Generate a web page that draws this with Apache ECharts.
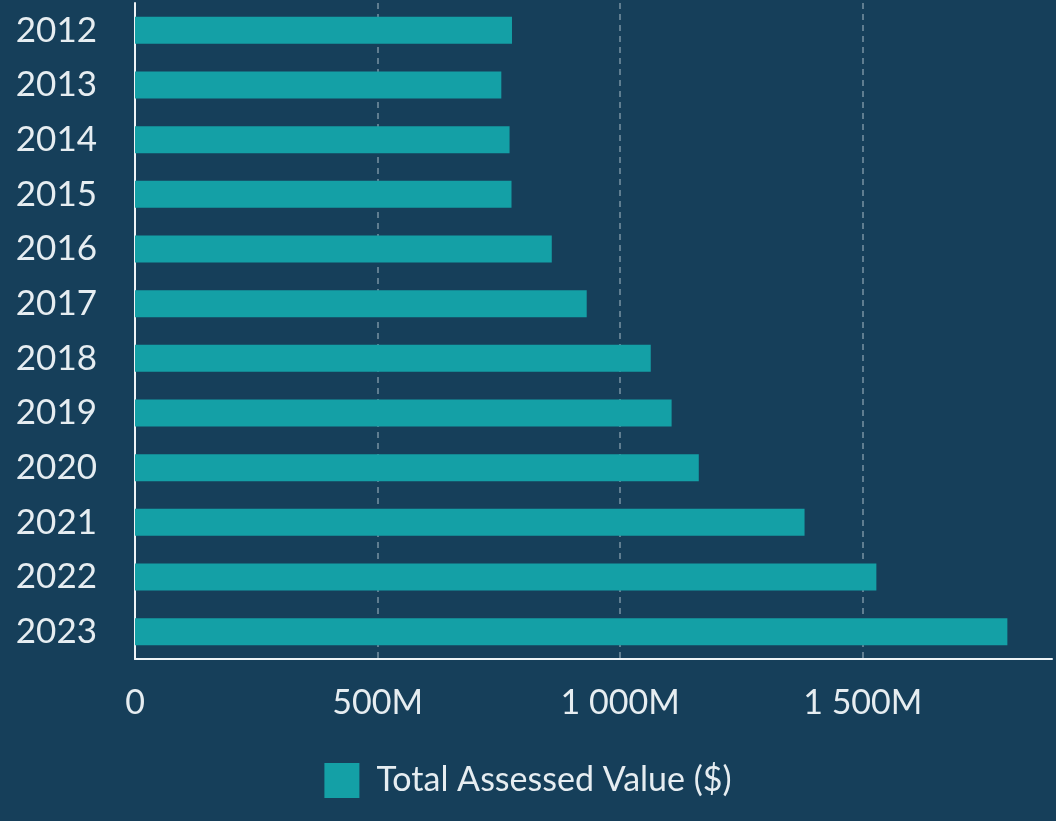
<!DOCTYPE html>
<html>
<head>
<meta charset="utf-8">
<script src="https://cdn.jsdelivr.net/npm/echarts@6/dist/echarts.min.js"></script>
<style>
  html, body { margin: 0; padding: 0; background: #163f5a; }
  #chart { width: 1056px; height: 821px; }
</style>
</head>
<body>
<div id="chart"></div>
<script>
// Fiscal years, top to bottom
const years = ['2012', '2013', '2014', '2015', '2016', '2017', '2018', '2019', '2020', '2021', '2022', '2023'];
// Total assessed value, in millions of dollars
const assessedValue = [777, 755, 772, 776, 859, 931, 1063, 1106, 1162, 1380, 1528, 1798];
const seriesName = 'Total Assessed Value ($)';

const textColor = '#e6edf1';
const fontFamily = 'Lato, "Noto Sans", sans-serif';

function formatMillions(v) {
  const s = String(Math.round(v)).replace(/\B(?=(\d{3})+(?!\d))/g, ' ');
  return v === 0 ? '0' : s + 'M';
}

const chart = echarts.init(document.getElementById('chart'));
chart.setOption({
  backgroundColor: '#163f5a',
  animation: false,
  grid: { left: 135, right: 4, top: 3, bottom: 162, containLabel: false },
  legend: {
    data: [seriesName],
    bottom: 18,
    left: 'center',
    itemWidth: 35,
    itemHeight: 35,
    itemGap: 16,
    icon: 'rect',
    textStyle: {
      color: textColor,
      fontSize: 34,
      fontFamily: fontFamily,
      padding: [0, 0, 0, 12]
    }
  },
  xAxis: {
    type: 'value',
    min: 0,
    max: 1890,
    interval: 500,
    axisLine: { show: true, lineStyle: { color: '#eef3f6', width: 2 } },
    axisTick: { show: false },
    axisLabel: {
      color: textColor,
      fontSize: 34,
      fontFamily: fontFamily,
      margin: 27,
      showMaxLabel: false,
      formatter: formatMillions
    },
    splitLine: {
      show: true,
      showMinLine: false,
      showMaxLine: false,
      lineStyle: { color: 'rgba(220,230,236,0.5)', type: [6, 5], width: 1.5 }
    }
  },
  yAxis: {
    type: 'category',
    data: years,
    inverse: true,
    axisLine: { show: true, lineStyle: { color: '#eef3f6', width: 2 } },
    axisTick: { show: false },
    axisLabel: {
      color: textColor,
      fontSize: 35,
      fontFamily: fontFamily,
      margin: 38
    }
  },
  series: [{
    name: seriesName,
    type: 'bar',
    data: assessedValue,
    barWidth: 27,
    itemStyle: { color: '#14a0a6' }
  }]
});
</script>
</body>
</html>
